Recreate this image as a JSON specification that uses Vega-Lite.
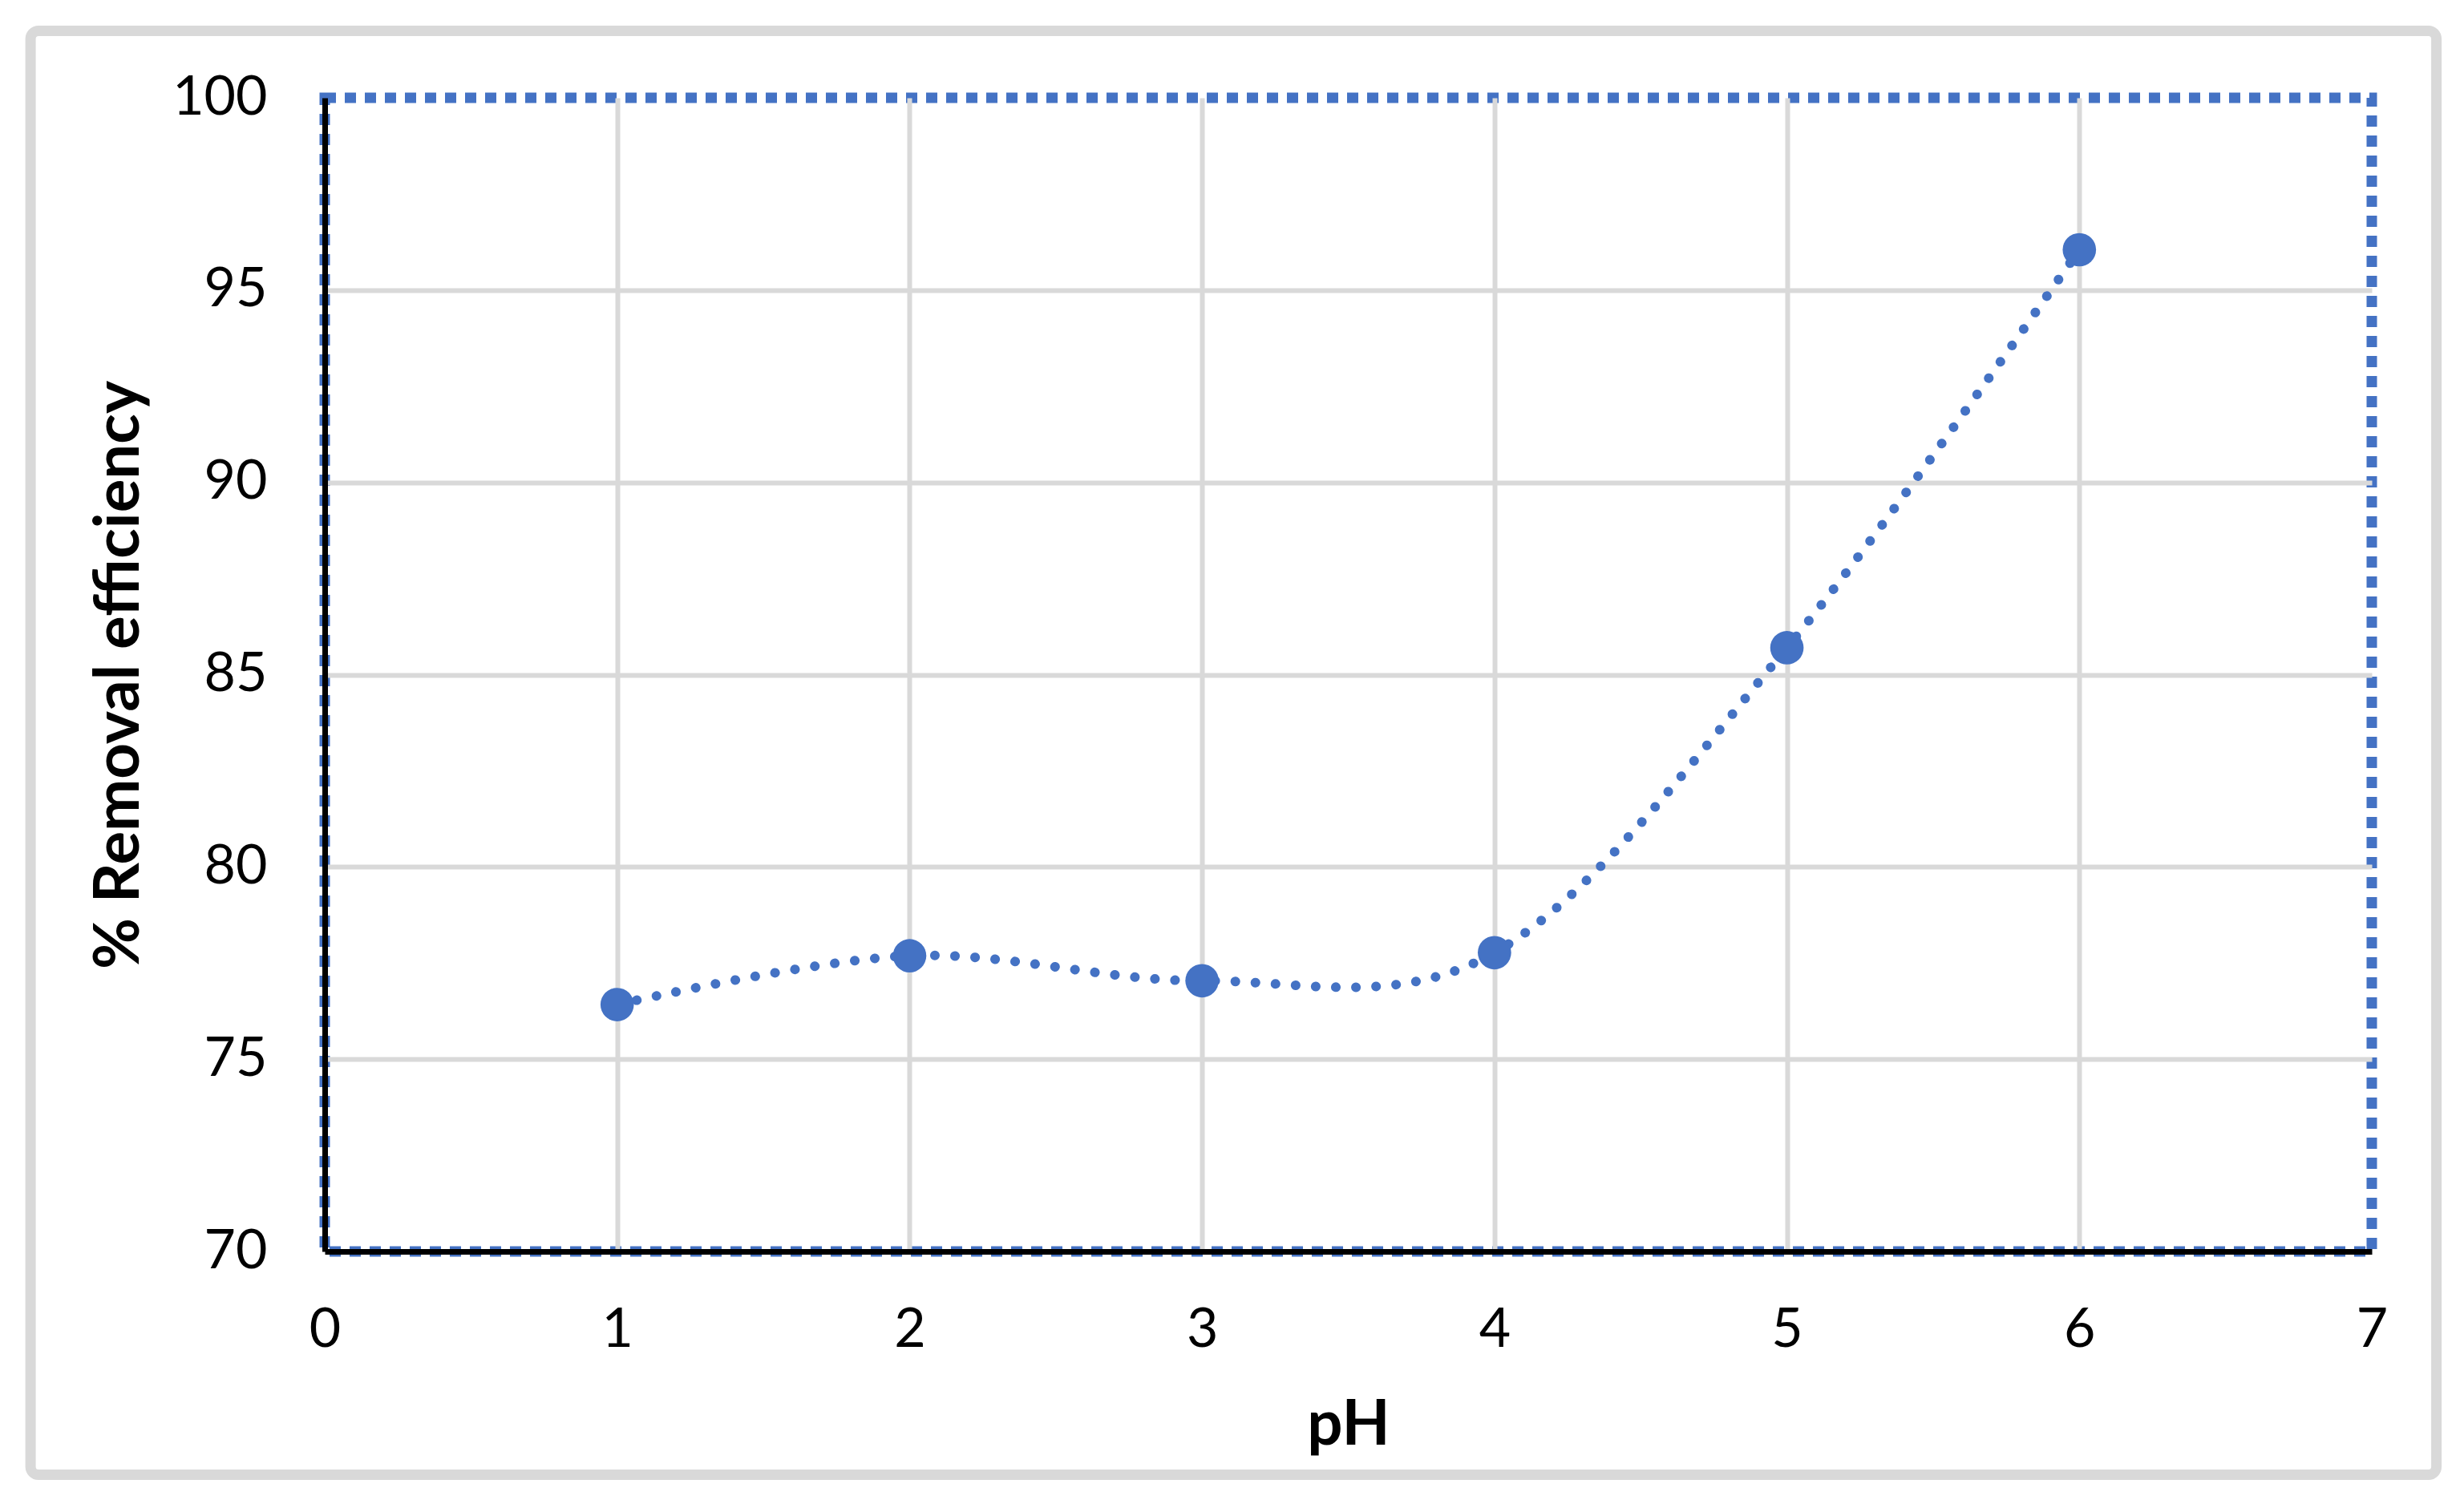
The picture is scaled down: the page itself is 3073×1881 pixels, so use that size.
{
  "$schema": "https://vega.github.io/schema/vega-lite/v6.json",
  "description": "% Removal efficiency vs pH",
  "autosize": {"type": "none"},
  "padding": {"left": 405, "top": 122, "right": 115, "bottom": 320},
  "width": 2553,
  "height": 1439,
  "background": "white",
  "data": {
    "values": [
      {"pH": 1, "removal": 76.42},
      {"pH": 2, "removal": 77.69},
      {"pH": 3, "removal": 77.04},
      {"pH": 4, "removal": 77.77},
      {"pH": 5, "removal": 85.7},
      {"pH": 6, "removal": 96.05}
    ]
  },
  "layer": [
    {
      "data": {"values": [{"frame": "chart area"}]},
      "mark": {
        "type": "rect",
        "fill": null,
        "stroke": "#D9D9D9",
        "strokeWidth": 13,
        "cornerRadius": 10,
        "clip": false
      },
      "encoding": {
        "x": {"datum": -1.006, "type": "quantitative"},
        "x2": {"datum": 7.221},
        "y": {"datum": 101.741, "type": "quantitative"},
        "y2": {"datum": 64.192}
      }
    },
    {
      "mark": {
        "type": "line",
        "interpolate": "cardinal",
        "color": "#4472C4",
        "strokeWidth": 12,
        "strokeDash": [0.1, 25],
        "strokeCap": "round"
      },
      "encoding": {
        "x": {"field": "pH", "type": "quantitative"},
        "y": {"field": "removal", "type": "quantitative"}
      }
    },
    {
      "mark": {"type": "circle", "color": "#4472C4", "size": 1735, "opacity": 1},
      "encoding": {
        "x": {"field": "pH", "type": "quantitative"},
        "y": {"field": "removal", "type": "quantitative"}
      }
    }
  ],
  "encoding": {
    "x": {
      "type": "quantitative",
      "scale": {"domain": [0, 7], "nice": false, "zero": false},
      "axis": {
        "title": "pH",
        "values": [0, 1, 2, 3, 4, 5, 6, 7],
        "labelPadding": 64,
        "titlePadding": 46,
        "gridOpacity": {
          "condition": {"test": "datum.value == 0 || datum.value == 7", "value": 0},
          "value": 1
        }
      }
    },
    "y": {
      "type": "quantitative",
      "scale": {"domain": [70, 100], "nice": false, "zero": false},
      "axis": {
        "title": "% Removal efficiency",
        "values": [70, 75, 80, 85, 90, 95, 100],
        "labelPadding": 72,
        "titlePadding": 26,
        "gridOpacity": {
          "condition": {"test": "datum.value == 70 || datum.value == 100", "value": 0},
          "value": 1
        }
      }
    }
  },
  "config": {
    "view": {"stroke": "#4472C4", "strokeWidth": 13, "strokeDash": [14, 11]},
    "axis": {
      "grid": true,
      "gridColor": "#D9D9D9",
      "gridWidth": 6,
      "domainColor": "#000000",
      "domainWidth": 7,
      "ticks": false,
      "labelFont": "Lato",
      "labelFontSize": 68,
      "labelColor": "#000000",
      "labelFlush": false,
      "labelOverlap": false,
      "titleFont": "Lato",
      "titleFontSize": 78,
      "titleFontWeight": "bold",
      "titleColor": "#000000"
    }
  }
}
